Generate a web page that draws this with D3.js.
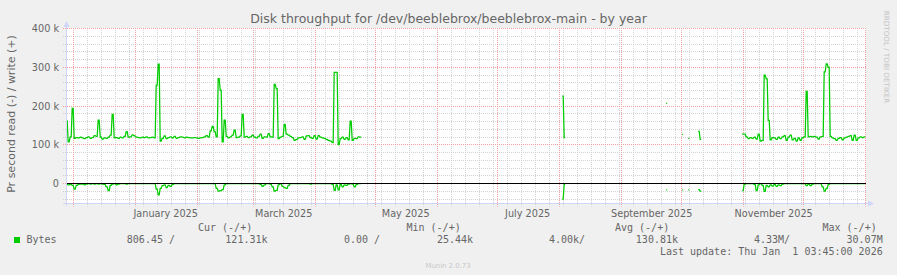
<!DOCTYPE html>
<html><head><meta charset="utf-8">
<script src="https://cdn.jsdelivr.net/npm/d3@7"></script>
<style>html,body{margin:0;padding:0;background:#f0f0f0;} svg{display:block}</style>
</head><body><svg id="c" width="897" height="275"></svg>
<script>
const title = "Disk throughput for /dev/beeblebrox/beeblebrox-main - by year";
const yLabel = "Pr second read (-) / write (+)";
const yTicks = [0, 100, 200, 300, 400];
const yTickLabels = ["0", "100 k", "200 k", "300 k", "400 k"];
const monthLabels = ["January 2025","March 2025","May 2025","July 2025","September 2025","November 2025"];
const monthLabelDates = ["2025-01-16","2025-03-16","2025-05-16","2025-07-16","2025-09-16","2025-11-16"];

// daily averages, k bytes per second (write positive, read negative)
const seg1Start = "2024-11-27";
const seg1Write = [162,108,121,194,117,119,118,120,118,116,
119,121,117,119,124,122,164,120,115,118,
117,120,125,179,118,119,117,120,118,122,
134,120,121,126,123,120,119,118,120,119,
121,118,119,120,118,254,308,110,117,123,
116,119,121,118,122,117,119,121,120,118,
120,119,118,118,119,118,117,118,119,121,
124,120,136,148,134,121,271,241,108,164,
122,118,121,125,138,119,120,123,179,120,
122,119,121,125,120,118,122,128,117,121,
120,129,121,120,256,245,116,120,122,153,
128,125,122,119,112,114,118,119,121,114,
123,124,119,117,124,115,124,120,118,117,
114,112,110,106,287,287,101,116,120,114,
119,113,161,112,117,116,121,120];
const seg1Read = [-2,-3,-2,-4,-14,-4,-2,-1,-1,-3,
-1,0,-1,0,-1,0,-1,0,-1,-2,
-8,-18,-4,-1,0,-3,-1,0,0,0,
-1,0,0,0,0,0,0,0,0,0,
0,0,0,0,0,-14,-29,-12,-5,-3,
-10,-4,-7,-2,0,0,0,0,0,0,
0,0,0,0,0,0,0,0,0,0,
0,0,0,0,0,-12,-19,-18,-15,-3,
0,0,0,0,0,0,0,0,0,0,
0,0,0,0,0,0,0,-2,-7,-3,
0,0,-1,-8,-19,-17,-3,0,-7,-10,
-12,-4,0,0,0,0,0,0,0,0,
0,0,-1,0,0,0,0,0,0,0,
0,0,0,-2,-17,-3,-16,-2,-8,-3,
-4,-1,0,-1,-8,-2,0,0];

const seg2Start = "2025-08-02";
const seg2Write = [226,119];
const seg2Read = [-40,-1];

const seg3Start = "2025-09-23";
const seg3Write = [207];
const seg3Read = [-16];

const seg4Start = "2025-10-01";
const seg4Write = [127];
const seg4Read = [-16];

const seg5Start = "2025-10-04";
const seg5Write = [117];
const seg5Read = [-16];

const seg6Start = "2025-10-09";
const seg6Write = [135,114];
const seg6Read = [-15,-19];

const seg7Start = "2025-10-31";
const seg7Write = [128,128,121,116,119,117,120,115,128,110,
112,280,270,163,113,119,118,114,120,116,
121,124,112,120,125,113,117,110,118,112,
119,121,238,121,122,121,122,120,115,121,
122,288,309,300,122,118,116,112,117,119,
113,118,120,122,124,112,125,112,118,121,
119,121];
const seg7Read = [-18,-1,0,0,0,0,-2,-18,-3,0,
-4,-20,-4,-8,-3,-6,-2,-7,-3,-5,
-1,0,0,0,0,0,0,0,0,0,
0,0,-5,-1,-5,-1,0,0,0,0,
-8,-19,-12,-2,0,0,0,0,0,0,
0,0,0,0,0,0,0,0,0,0,
0,0];

const legendHeads = ["Cur (-/+)", "Min (-/+)", "Avg (-/+)", "Max (-/+)"];
const legendSeries = "Bytes";
const legendValues = ["806.45 /", "121.31k", "0.00 /", "25.44k", "4.00k/", "130.81k", "4.33M/", "30.07M"];
const lastUpdate = "Last update: Thu Jan  1 03:45:00 2026";

const segments = [
  [seg1Start, seg1Write, seg1Read], [seg2Start, seg2Write, seg2Read],
  [seg3Start, seg3Write, seg3Read], [seg4Start, seg4Write, seg4Read],
  [seg5Start, seg5Write, seg5Read], [seg6Start, seg6Write, seg6Read],
  [seg7Start, seg7Write, seg7Read]
];

const svg = d3.select("#c");
const FONT = "DejaVu Sans, sans-serif";
const MONO = "DejaVu Sans Mono, monospace";
const TXT = "#666666";

const t0 = new Date(2024, 10, 27, 3, 45), t1 = new Date(2026, 0, 1, 3, 45);
const x = d3.scaleTime().domain([t0, t1]).range([66, 866]);
const y = d3.scaleLinear().domain([-51, 400]).range([203.5, 28.5]);
const px = v => Math.floor(v) + 0.5;

svg.append("rect").attr("width", 897).attr("height", 275).attr("fill", "#f0f0f0");
svg.append("rect").attr("x", 66).attr("y", 28).attr("width", 800).attr("height", 176).attr("fill", "#ffffff");

// grid
const g = svg.append("g");
const months = d3.timeMonth.range(d3.timeMonth.ceil(t0), t1);
const weeks = d3.timeSunday.range(t0, t1).filter(d => d.getDate() !== 1);
weeks.forEach(d => g.append("line").attr("x1", px(x(d))).attr("x2", px(x(d)))
  .attr("y1", 28).attr("y2", 206.5).attr("stroke", "#d2d2d2").attr("stroke-dasharray", "1,1"));
const minor = d3.range(-40, 401, 20).filter(v => v % 100 !== 0);
minor.forEach(v => g.append("line").attr("x1", 63).attr("x2", 867).attr("y1", px(y(v))).attr("y2", px(y(v)))
  .attr("stroke", "#d2d2d2").attr("stroke-dasharray", "1,1"));
months.forEach(d => g.append("line").attr("x1", px(x(d))).attr("x2", px(x(d)))
  .attr("y1", 28).attr("y2", 206.5).attr("stroke", "#f2a0a0").attr("stroke-dasharray", "1,1"));
yTicks.forEach(v => g.append("line").attr("x1", 63).attr("x2", 867).attr("y1", px(y(v))).attr("y2", px(y(v)))
  .attr("stroke", "#f2a0a0").attr("stroke-dasharray", "1,1"));

// data lines
const day = d3.timeParse("%Y-%m-%d");
const line = d3.line().x(p => p[0]).y(p => p[1]);
function pts(start, vals) {
  const s = d3.timeHour.offset(day(start), 12);
  const out = [];
  vals.forEach((v, i) => {
    const xx = x(d3.timeDay.offset(s, i));
    out.push([xx - 0.5, y(v)], [xx + 0.5, y(v)]);
  });
  return out;
}
segments.forEach(([s, w, r]) => {
  svg.append("path").attr("d", line(pts(s, r))).attr("fill", "none").attr("stroke", "#00cc00").attr("stroke-width", 1.25);
  svg.append("path").attr("d", line(pts(s, w))).attr("fill", "none").attr("stroke", "#00cc00").attr("stroke-width", 1.25);
});

// zero rule
svg.append("line").attr("x1", 66).attr("x2", 866).attr("y1", px(y(0))).attr("y2", px(y(0))).attr("stroke", "#000").attr("stroke-width", 1);

// axes
const AX = "#cfd6f8";
svg.append("line").attr("x1", 66.5).attr("x2", 66.5).attr("y1", 206).attr("y2", 24).attr("stroke", AX);
svg.append("path").attr("d", "M63.5,27L69.5,27L66.5,21Z").attr("fill", AX);
svg.append("line").attr("x1", 63).attr("x2", 870).attr("y1", 203.5).attr("y2", 203.5).attr("stroke", AX);
svg.append("path").attr("d", "M868,200.5L868,206.5L874,203.5Z").attr("fill", AX);

// y tick labels
yTicks.forEach((v, i) => svg.append("text").attr("x", 59).attr("y", y(v) + 3.5)
  .attr("text-anchor", "end").attr("font-family", FONT).attr("font-size", 9.7).attr("fill", TXT).text(yTickLabels[i]));

// x labels
monthLabels.forEach((m, i) => svg.append("text").attr("x", x(day(monthLabelDates[i]))).attr("y", 216.5)
  .attr("text-anchor", "middle").attr("font-family", FONT).attr("font-size", 9.7).attr("fill", TXT).text(m));

// title
svg.append("text").attr("x", 448.5).attr("y", 23).attr("text-anchor", "middle")
  .attr("font-family", FONT).attr("font-size", 12.5).attr("fill", TXT).text(title);

// y axis label
svg.append("text").attr("transform", "translate(14.5,114) rotate(-90)").attr("text-anchor", "middle")
  .attr("font-family", FONT).attr("font-size", 11).attr("fill", TXT).text(yLabel);

// watermark
svg.append("text").attr("transform", "translate(884,57) rotate(90)").attr("text-anchor", "middle")
  .attr("font-family", FONT).attr("font-size", 7.2).attr("fill", "#c4c4c4").text("RRDTOOL / TOBI OETIKER");
svg.append("text").attr("x", 448).attr("y", 267.5).attr("text-anchor", "middle")
  .attr("font-family", FONT).attr("font-size", 6.9).attr("fill", "#c8c8c8").text("Munin 2.0.73");

// legend
const headX = [198, 406.5, 615, 822.5];
legendHeads.forEach((h, i) => svg.append("text").attr("x", headX[i]).attr("y", 231)
  .attr("font-family", MONO).attr("font-size", 10).attr("fill", TXT).text(h));
svg.append("rect").attr("x", 14).attr("y", 237).attr("width", 6).attr("height", 6).attr("fill", "#00cc00");
svg.append("text").attr("x", 26.5).attr("y", 243).attr("font-family", MONO).attr("font-size", 10).attr("fill", TXT).text(legendSeries);
const valEnd = [175, 267.5, 380, 473, 585, 678, 790, 882.7];
legendValues.forEach((v, i) => svg.append("text").attr("x", valEnd[i]).attr("y", 243).attr("text-anchor", "end")
  .attr("font-family", MONO).attr("font-size", 10).attr("fill", TXT).style("white-space", "pre").text(v));
svg.append("text").attr("x", 882.7).attr("y", 255).attr("text-anchor", "end").style("white-space", "pre")
  .attr("font-family", MONO).attr("font-size", 10).attr("fill", TXT).text(lastUpdate);
</script></body></html>
